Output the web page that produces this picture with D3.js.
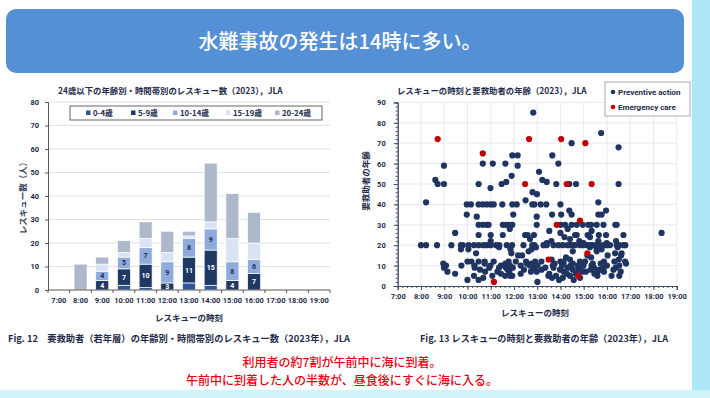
<!DOCTYPE html>
<html><head><meta charset="utf-8">
<script src="https://cdn.jsdelivr.net/npm/d3@7"></script>
<style>
body{margin:0;background:#fff;}
svg{display:block;font-family:"Noto Sans CJK JP","Noto Sans",sans-serif;}
</style>
</head><body>
<svg id="c" width="710" height="398"></svg>
<script>
// ---------- DATA ----------
const hours = ["7:00","8:00","9:00","10:00","11:00","12:00","13:00","14:00","15:00","16:00","17:00","18:00","19:00"];
const ageGroups = ["0-4歳","5-9歳","10-14歳","15-19歳","20-24歳"];
const age0_4   = [0,0,0,2,1,0,3,2,0,0,0,0,0];
const age5_9   = [0,0,4,7,10,3,11,15,4,7,0,0,0];
const age10_14 = [0,0,4,5,7,9,8,9,8,6,0,0,0];
const age15_19 = [0,0,3,2,4,4,1,3,10,7,0,0,0];
const age20_24 = [0,11,3,5,7,9,2,25,19,13,0,0,0];
const barTicks = [0,10,20,30,40,50,60,70,80];

const scatterHours = [7,8,9,10,11,12,13,14,15,16,17,18,19];
const scatterAgeTicks = [0,10,20,30,40,50,60,70,80,90];
// Preventive action: [age, [rescue times in hours]]
const preventiveRows = [
  [85,[12.83]],
  [75,[15.75]],
  [70,[14.48]],
  [68,[16.50]],
  [64,[11.93,12.16,13.65]],
  [60,[10.66,11.09,11.63,13.91]],
  [59,[8.99,12.16]],
  [56,[13.08]],
  [54,[11.90]],
  [52,[8.62,13.22]],
  [51,[11.67,13.41]],
  [50,[8.72,8.99,10.48,11.47,13.82,14.38,14.67,16.50]],
  [48,[10.99]],
  [46,[12.80]],
  [45,[12.99]],
  [42,[12.50]],
  [41,[8.22,15.63]],
  [40,[9.97,10.15,10.48,10.66,10.83,11.00,11.13,11.50,11.93,12.12,12.79,12.88,13.15,13.39,14.00]],
  [37,[14.38,15.96]],
  [35,[9.97,11.97,13.64,14.03,14.48,15.63,15.77]],
  [34,[10.40,12.98]],
  [30,[10.48,10.66,10.83,10.91,11.52,11.65,11.80,11.93,12.98,14.01,14.20,14.48,14.70,14.96,15.20,15.32,15.56,15.85,16.36,16.42]],
  [28,[11.82,14.31]],
  [27,[13.52,15.34]],
  [26,[9.47,14.00,18.35]],
  [25,[10.48,11.00,11.52,12.48,12.59,12.86,14.63,14.70,15.17,15.65,15.96,16.71]],
  [24,[14.17,15.27]],
  [23,[12.69,14.41]],
  [22,[11.00,13.61,14.81,15.63,16.39]],
  [21,[13.41,14.99,15.99]],
  [20,[8.00,8.22,8.69,9.31,9.72,9.80,10.05,10.28,10.48,10.68,10.83,11.00,11.23,11.37,11.69,11.92,12.41,12.79,12.88,13.27,13.41,13.70,13.91,14.10,14.30,14.41,14.53,14.63,14.84,14.96,15.13,15.27,15.39,15.56,15.67,15.85,15.99,16.13,16.42,16.53,16.71,16.79]],
  [19,[11.36,12.95,15.27,16.46]],
  [18,[9.72,10.04,11.85,12.76,15.56,15.77]],
  [17,[12.63,14.53,15.56]],
  [16,[10.37,11.89,16.35,16.63]],
  [15,[12.18,12.35,15.16,16.03,16.61]],
  [14,[14.24,15.32]],
  [13,[13.62,14.41,16.51]],
  [12,[10.00,10.17,10.48,10.74,11.13,11.77,12.08,12.52,12.91,13.18,14.00,14.13,14.84,15.06,15.87,16.32,16.78]],
  [11,[8.96,10.74,11.63,12.55,12.76,13.75,14.13,14.53,15.39,15.73,16.82]],
  [10,[9.08,9.74,10.30,10.99,11.44,11.83,12.29,12.68,13.01,13.67,14.07,14.44,14.74,14.99,15.34,16.00,16.53]],
  [9,[8.99,10.31,10.94,11.36,11.66,11.95,12.85,13.35,13.70,14.31,14.84,15.44,15.85,16.38]],
  [8,[10.54,11.73,12.43,13.19,13.98,14.53,14.78,15.30,15.67,16.28]],
  [7,[9.14,10.76,11.29,11.80,12.73,12.98,14.14,14.93,15.09,15.60,15.87,16.59]],
  [6,[9.47,11.44,12.29,13.52,14.28,14.66,15.46]],
  [5,[10.28,11.07,11.62,11.83,11.93,13.48,13.81,14.41,15.59,16.20,16.53]],
  [4,[10.68,13.64,14.10,14.84]],
  [3,[10.00,10.48,13.94,14.57]],
  [2,[13.01]]
];
// Emergency care: [time, age]
const emergency = [[8.72,72],[10.66,65],[11.14,2],[12.48,50],[12.65,72],[13.49,13],[13.84,30],[14.03,72],[14.27,50],[14.77,5],[14.84,32],[15.07,70],[15.16,16],[15.34,50]];
const seriesNames = ["Preventive action","Emergency care"];

// ---------- STYLE ----------
const NAVY_TXT = "#1e2b4a";
const barColors = ["#2f5597","#1f3864","#8faadc","#dae3f3","#adb9ca"];
const DOT = "#1f3460", RED = "#c00000";
const svg = d3.select("#c");

// background decorations
svg.append("rect").attr("x",692).attr("y",0).attr("width",18).attr("height",398).attr("fill","#aee8f8");
svg.append("rect").attr("x",0).attr("y",390).attr("width",710).attr("height",8).attr("fill","#d3f3fc");
svg.append("rect").attr("x",6).attr("y",9).attr("width",678).attr("height",64).attr("rx",10).attr("fill","#5590d6");
svg.append("text").attr("x",340).attr("y",49).attr("text-anchor","middle").attr("fill","#fff")
  .attr("font-size",20).attr("font-weight",500).text("水難事故の発生は14時に多い。");

// ---------- LEFT: stacked bars ----------
const L = {x0:48, x1:330, y0:290, y1:102};
const xB = d3.scaleBand().domain(hours).range([L.x0,L.x1]).paddingInner(0.4).paddingOuter(0.2);
const yB = d3.scaleLinear().domain([0,80]).range([L.y0,L.y1]);
const left = svg.append("g");

left.append("text").attr("x",58).attr("y",94).attr("fill",NAVY_TXT).attr("font-size",8.4).attr("font-weight",700)
  .text("24歳以下の年齢別・時間帯別のレスキュー数（2023），JLA");

left.append("g").selectAll("line").data(barTicks.slice(1)).join("line")
  .attr("x1",L.x0).attr("x2",L.x1).attr("y1",d=>yB(d)).attr("y2",d=>yB(d))
  .attr("stroke","#d9d9d9").attr("stroke-width",0.8);

const table = hours.map((h,i)=>({hour:h,"0-4歳":age0_4[i],"5-9歳":age5_9[i],"10-14歳":age10_14[i],"15-19歳":age15_19[i],"20-24歳":age20_24[i]}));
const stack = d3.stack().keys(ageGroups)(table);
stack.forEach((layer,k)=>{
  const g = left.append("g");
  g.selectAll("rect").data(layer.filter(d=>d[1]-d[0]>0)).join("rect")
    .attr("x",d=>xB(d.data.hour)).attr("width",xB.bandwidth())
    .attr("y",d=>yB(d[1])).attr("height",d=>yB(d[0])-yB(d[1]))
    .attr("fill",barColors[k]).attr("stroke","#fff").attr("stroke-width",0.7);
  if(k===1||k===2){
    g.selectAll("text").data(layer.filter(d=>d[1]-d[0]>0)).join("text")
      .attr("x",d=>xB(d.data.hour)+xB.bandwidth()/2).attr("y",d=>(yB(d[0])+yB(d[1]))/2+2.5)
      .attr("text-anchor","middle").attr("font-family","Roboto").attr("font-size",7).attr("font-weight",700)
      .attr("fill",k===1?"#fff":NAVY_TXT).text(d=>d[1]-d[0]);
  }
});

const yAxL = left.append("g").attr("transform",`translate(${L.x0},0)`)
  .call(d3.axisLeft(yB).tickValues(barTicks).tickSize(3).tickPadding(6));
const xAxL = left.append("g").attr("transform",`translate(0,${L.y0})`)
  .call(d3.axisBottom(xB).tickSize(0).tickPadding(8));
[yAxL,xAxL].forEach(a=>{
  a.select(".domain").attr("stroke","#595959");
  a.selectAll(".tick line").attr("stroke","#595959");
  a.selectAll("text").attr("fill",NAVY_TXT).attr("font-family","Roboto").attr("font-size",7.5).attr("font-weight",700);
});
xAxL.select(".domain").attr("d",`M${L.x0},0H${L.x1}`);
left.append("g").selectAll("line").data(hours).join("line")
  .attr("x1",d=>xB(d)-xB.step()*xB.paddingInner()/2).attr("x2",d=>xB(d)-xB.step()*xB.paddingInner()/2)
  .attr("y1",L.y0).attr("y2",L.y0+3).attr("stroke","#595959");
left.append("line").attr("x1",L.x1).attr("x2",L.x1).attr("y1",L.y0).attr("y2",L.y0+3).attr("stroke","#595959");

left.append("text").attr("x",189).attr("y",321).attr("text-anchor","middle").attr("fill",NAVY_TXT)
  .attr("font-size",8.5).attr("font-weight",700).text("レスキューの時刻");
left.append("text").attr("transform","translate(26,196) rotate(-90)").attr("text-anchor","middle").attr("fill","#3a4560")
  .attr("font-size",8.5).attr("font-weight",700).text("レスキュー数（人）");

// legend
const lg = left.append("g");
lg.append("rect").attr("x",70).attr("y",106).attr("width",252).attr("height",14).attr("fill","#fff").attr("stroke","#404040").attr("stroke-width",0.8);
const legX = [86,131,173,226,275];
ageGroups.forEach((a,i)=>{
  lg.append("rect").attr("x",legX[i]).attr("y",110.5).attr("width",4.5).attr("height",4.5).attr("fill",barColors[i]);
  lg.append("text").attr("x",legX[i]+7).attr("y",116.2).attr("fill",NAVY_TXT).attr("font-size",7.8).attr("font-weight",700).text(a);
});

// ---------- RIGHT: scatter ----------
const R = {x0:397.7, x1:676.7, y0:286, y1:102.4};
const xS = d3.scaleLinear().domain([7,19]).range([R.x0,R.x1]);
const yS = d3.scaleLinear().domain([0,90]).range([R.y0,R.y1]);
const right = svg.append("g");

right.append("text").attr("x",397).attr("y",94).attr("fill",NAVY_TXT).attr("font-size",8.4).attr("font-weight",700)
  .text("レスキューの時刻と要救助者の年齢（2023），JLA");

right.append("g").selectAll("line").data(scatterAgeTicks.slice(1)).join("line")
  .attr("x1",R.x0).attr("x2",R.x1).attr("y1",d=>yS(d)).attr("y2",d=>yS(d)).attr("stroke","#dfe3ea").attr("stroke-width",0.8);
right.append("g").selectAll("line").data(scatterHours.slice(1)).join("line")
  .attr("x1",d=>xS(d)).attr("x2",d=>xS(d)).attr("y1",R.y0).attr("y2",R.y1).attr("stroke","#dfe3ea").attr("stroke-width",0.8);

const yAxR = right.append("g").attr("transform",`translate(${R.x0},0)`)
  .call(d3.axisLeft(yS).tickValues(scatterAgeTicks).tickSize(4).tickPadding(8));
const yMinor = right.append("g").attr("transform",`translate(${R.x0},0)`)
  .call(d3.axisLeft(yS).tickValues(d3.range(0,91,2)).tickSize(2).tickFormat(""));
const xAxR = right.append("g").attr("transform",`translate(0,${R.y0})`)
  .call(d3.axisBottom(xS).tickValues(scatterHours).tickSize(4).tickPadding(4).tickFormat(d=>d+":00"));
const xMinor = right.append("g").attr("transform",`translate(0,${R.y0})`)
  .call(d3.axisBottom(xS).tickValues(d3.range(7,19.01,0.2)).tickSize(2).tickFormat(""));
[yAxR,yMinor,xAxR,xMinor].forEach(a=>{
  a.select(".domain").attr("stroke","#44506a");
  a.selectAll(".tick line").attr("stroke","#44506a");
  a.selectAll("text").attr("fill",NAVY_TXT).attr("font-family","Roboto").attr("font-size",7.5).attr("font-weight",700);
});

const prevPts = preventiveRows.flatMap(([age,ts])=>ts.map(t=>({t,age})));
right.append("g").selectAll("circle").data(prevPts).join("circle")
  .attr("cx",d=>xS(d.t)).attr("cy",d=>yS(d.age)).attr("r",3.1).attr("fill",DOT);
right.append("g").selectAll("circle").data(emergency).join("circle")
  .attr("cx",d=>xS(d[0])).attr("cy",d=>yS(d[1])).attr("r",3.1).attr("fill",RED);

right.append("text").attr("x",535).attr("y",316).attr("text-anchor","middle").attr("fill",NAVY_TXT)
  .attr("font-size",8.5).attr("font-weight",700).text("レスキューの時刻");
right.append("text").attr("transform","translate(369,181) rotate(-90)").attr("text-anchor","middle").attr("fill",NAVY_TXT)
  .attr("font-size",8.5).attr("font-weight",700).text("要救助者の年齢");

const rl = right.append("g");
rl.append("rect").attr("x",605).attr("y",82).attr("width",85).attr("height",34).attr("fill","#fff").attr("stroke","#8a93a6").attr("stroke-width",0.8);
[DOT,RED].forEach((c,i)=>{
  rl.append("circle").attr("cx",613).attr("cy",92+i*15).attr("r",2.3).attr("fill",c);
  rl.append("text").attr("x",618).attr("y",95+i*15).attr("fill",NAVY_TXT).attr("font-family","Roboto").attr("font-size",8).attr("font-weight",700).text(seriesNames[i]);
});

// ---------- captions ----------
svg.append("text").attr("x",8).attr("y",342).attr("fill",NAVY_TXT).attr("font-size",9.2).attr("font-weight",700)
  .attr("textLength",342).attr("lengthAdjust","spacingAndGlyphs")
  .text("Fig. 12　要救助者（若年層）の年齢別・時間帯別のレスキュー数（2023年），JLA");
svg.append("text").attr("x",420).attr("y",342).attr("fill",NAVY_TXT).attr("font-size",9.2).attr("font-weight",700)
  .attr("textLength",248).attr("lengthAdjust","spacingAndGlyphs")
  .text("Fig. 13 レスキューの時刻と要救助者の年齢（2023年），JLA");
svg.append("text").attr("x",342).attr("y",367).attr("text-anchor","middle").attr("fill","#e60012").attr("font-size",12).attr("font-weight",500)
  .text("利用者の約7割が午前中に海に到着。");
svg.append("text").attr("x",342).attr("y",384.5).attr("text-anchor","middle").attr("fill","#e60012").attr("font-size",12).attr("font-weight",500)
  .text("午前中に到着した人の半数が、昼食後にすぐに海に入る。");
</script>
</body></html>
